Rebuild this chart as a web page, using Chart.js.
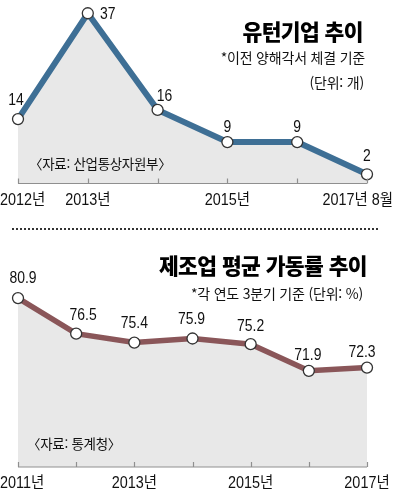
<!DOCTYPE html>
<html lang="ko">
<head>
<meta charset="UTF-8">
<title>유턴기업 추이 / 제조업 평균 가동률 추이</title>
<script src="https://cdn.jsdelivr.net/npm/chart.js"></script>
<style>
  body { margin: 0; background: #fff; font-family: 'Noto Sans CJK KR', sans-serif; color: #111; }
  #wrap { position: relative; width: 393px; height: 491px; overflow: hidden; }
  canvas { position: absolute; left: 0; }
  .txt { position: absolute; white-space: nowrap; line-height: 1; }
  .title { font-size: 21.5px; font-weight: 900; letter-spacing: -0.6px; color: #000; }
  .sub { font-size: 14px; color: #111; letter-spacing: -0.2px; }
  .src { font-size: 13.5px; color: #111; letter-spacing: -0.3px; }
  .sep { position: absolute; left: 12px; width: 366px; top: 228px; border-top: 2px dotted #333; }
</style>
</head>
<body>
<div id="wrap">
  <canvas id="turnChart" width="393" height="215" style="top:0"></canvas>
  <canvas id="rateChart" width="393" height="251" style="top:240px"></canvas>

  <div class="txt title" style="right:30px; top:20px">유턴기업 추이</div>
  <div class="txt sub" style="right:28px; top:50px">*이전 양해각서 체결 기준</div>
  <div class="txt sub" style="right:29px; top:75px">(단위: 개)</div>
  <div class="txt src" style="left:29px; top:157px">〈자료: 산업통상자원부〉</div>

  <div class="sep"></div>

  <div class="txt title" style="right:26px; top:254px">제조업 평균 가동률 추이</div>
  <div class="txt sub" style="right:30px; top:286px">*각 연도 3분기 기준 (단위: %)</div>
  <div class="txt src" style="left:27px; top:437px">〈자료: 통계청〉</div>
</div>

<script>
  // 유턴기업 (개)
  const turnCategories = ['2012', '2013', '2014', '2015', '2016', '2017.8'];
  const turnValues = [14, 37, 16, 9, 9, 2];
  const turnTickLabels = ['2012년', '2013년', '', '2015년', '', '2017년 8월'];

  // 제조업 평균 가동률 (%)
  const rateCategories = ['2011', '2012', '2013', '2014', '2015', '2016', '2017'];
  const rateValues = [80.9, 76.5, 75.4, 75.9, 75.2, 71.9, 72.3];
  const rateTickLabels = ['2011년', '', '2013년', '', '2015년', '', '2017년'];

  const numFont = "'Liberation Sans', 'Noto Sans CJK KR', sans-serif";

  // draws the baseline, small inward ticks, tick labels and value labels
  const axisDecor = {
    id: 'axisDecor',
    afterDatasetsDraw(chart, args, opts) {
      const ctx = chart.ctx;
      const xs = chart.scales.x;
      const area = chart.chartArea;
      const meta = chart.getDatasetMeta(0);

      ctx.save();
      ctx.strokeStyle = '#8f8f8f';
      ctx.lineWidth = 1.2;
      ctx.beginPath();
      ctx.moveTo(area.left, area.bottom);
      ctx.lineTo(area.right, area.bottom);
      opts.tickLabels.forEach((t, i) => {
        const px = Math.round(xs.getPixelForValue(i)) + 0.5;
        ctx.moveTo(px, area.bottom);
        ctx.lineTo(px, area.bottom - 5);
      });
      ctx.stroke();

      // tick labels, kept inside the canvas
      ctx.fillStyle = '#111';
      ctx.textBaseline = 'middle';
      ctx.textAlign = 'center';
      ctx.font = '16px ' + numFont;
      opts.tickLabels.forEach((t, i) => {
        if (!t) return;
        const w = ctx.measureText(t).width * 0.9;
        let cx = xs.getPixelForValue(i);
        cx = Math.min(Math.max(cx, w / 2), chart.width - w / 2);
        ctx.save();
        ctx.translate(cx, area.bottom + 17);
        ctx.scale(0.9, 1);
        ctx.fillText(t, 0, 0);
        ctx.restore();
      });

      // value labels
      ctx.font = '17px ' + numFont;
      meta.data.forEach((pt, i) => {
        const s = opts.shifts[i];
        ctx.save();
        ctx.translate(pt.x + s[0], pt.y + s[1]);
        ctx.scale(0.82, 1);
        ctx.fillText(String(chart.data.datasets[0].data[i]), 0, 0);
        ctx.restore();
      });
      ctx.restore();
    }
  };

  function makeChart(id, cats, vals, ticks, shifts, color, lineW, yMin, yMax, padBottom) {
    return new Chart(document.getElementById(id), {
      type: 'line',
      data: {
        labels: cats,
        datasets: [{
          data: vals,
          borderColor: color,
          borderWidth: lineW,
          backgroundColor: '#e8e8e8',
          fill: 'start',
          tension: 0,
          clip: false,
          pointRadius: 5.5,
          pointBackgroundColor: '#fff',
          pointBorderColor: '#333',
          pointBorderWidth: 1.3
        }]
      },
      options: {
        responsive: false,
        animation: false,
        devicePixelRatio: 1,
        layout: { padding: { left: 18, right: 26, top: 0, bottom: padBottom } },
        scales: {
          x: { display: false },
          y: { display: false, min: yMin, max: yMax }
        },
        plugins: {
          legend: { display: false },
          tooltip: { enabled: false },
          axisDecor: { tickLabels: ticks, shifts: shifts }
        }
      },
      plugins: [axisDecor]
    });
  }

  makeChart('turnChart', turnCategories, turnValues, turnTickLabels,
    [[-2, -19], [20, 1], [7, -14], [0, -15], [0, -15], [0, -18]],
    '#3e6f95', 6, 0, 38.4, 31.5);

  makeChart('rateChart', rateCategories, rateValues, rateTickLabels,
    [[5, -20], [7, -18], [0, -19], [-1, -19], [0, -18], [-1, -16], [-5, -15]],
    '#8a5659', 5.5, 60, 87.25, 24);
</script>
</body>
</html>
